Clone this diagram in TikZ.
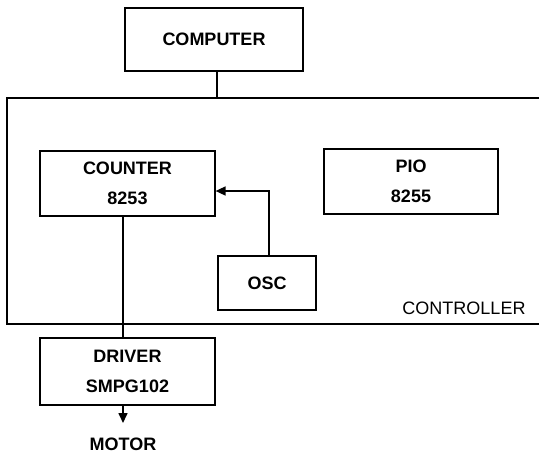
\documentclass[tikz,border=0pt]{standalone}
\usepackage{fontspec}
\setmainfont{Liberation Sans}
\usetikzlibrary{arrows.meta,calc}
\begin{document}
\begin{tikzpicture}[x=1pt,y=-1pt,
  blk/.style={draw,line width=1.2pt,rectangle,inner sep=0pt,align=center,
    font=\fontsize{18}{30}\selectfont\bfseries},
  wire/.style={line width=1.6pt},
  tip/.style={-{Triangle[length=10pt,width=9pt]}},
  lbl/.style={font=\fontsize{18}{20}\selectfont\bfseries,inner sep=0pt}]
\useasboundingbox[fill=white] (0,0) rectangle (540,453);
% controller frame (open to the right)
\coordinate (ctl) at (7,98);
\coordinate (ctr) at (539,98);
\coordinate (cbl) at (7,324);
\coordinate (cbr) at (539,324);
\draw[line width=1.2pt] (ctr) -- (ctl) -- (cbl) -- (cbr);
\node[font=\fontsize{18}{20}\selectfont,inner sep=0pt] (ctlname) at (464,308) {CONTROLLER};
% blocks
\node[blk,minimum width=178pt,minimum height=63pt] (computer) at (214,39.5) {COMPUTER};
\node[blk,minimum width=175pt,minimum height=65pt] (counter) at (127.5,183.5) {COUNTER\\8253};
\node[blk,minimum width=174pt,minimum height=65pt] (pio) at (411,181.5) {PIO\\8255};
\node[blk,minimum width=98pt,minimum height=54pt] (osc) at (267,283) {OSC};
\node[blk,minimum width=175pt,minimum height=67pt] (driver) at (127.5,371.5) {DRIVER\\SMPG102};
\node[lbl] (motor) at (123,444) {MOTOR};
% connectors
\coordinate (ctop) at (217,98);
\draw[wire] (computer.south -| ctop) -- (ctop);
\coordinate (cdx) at (123,0);
\draw[wire] (counter.south -| cdx) -- (driver.north -| cdx);
\coordinate (oscx) at (269,191);
\draw[wire,tip] (osc.north -| oscx) -- (oscx) -- (counter.east |- oscx);
\coordinate (mtip) at (123,423);
\draw[wire,tip] (driver.south -| mtip) -- (mtip);
\end{tikzpicture}
\end{document}
